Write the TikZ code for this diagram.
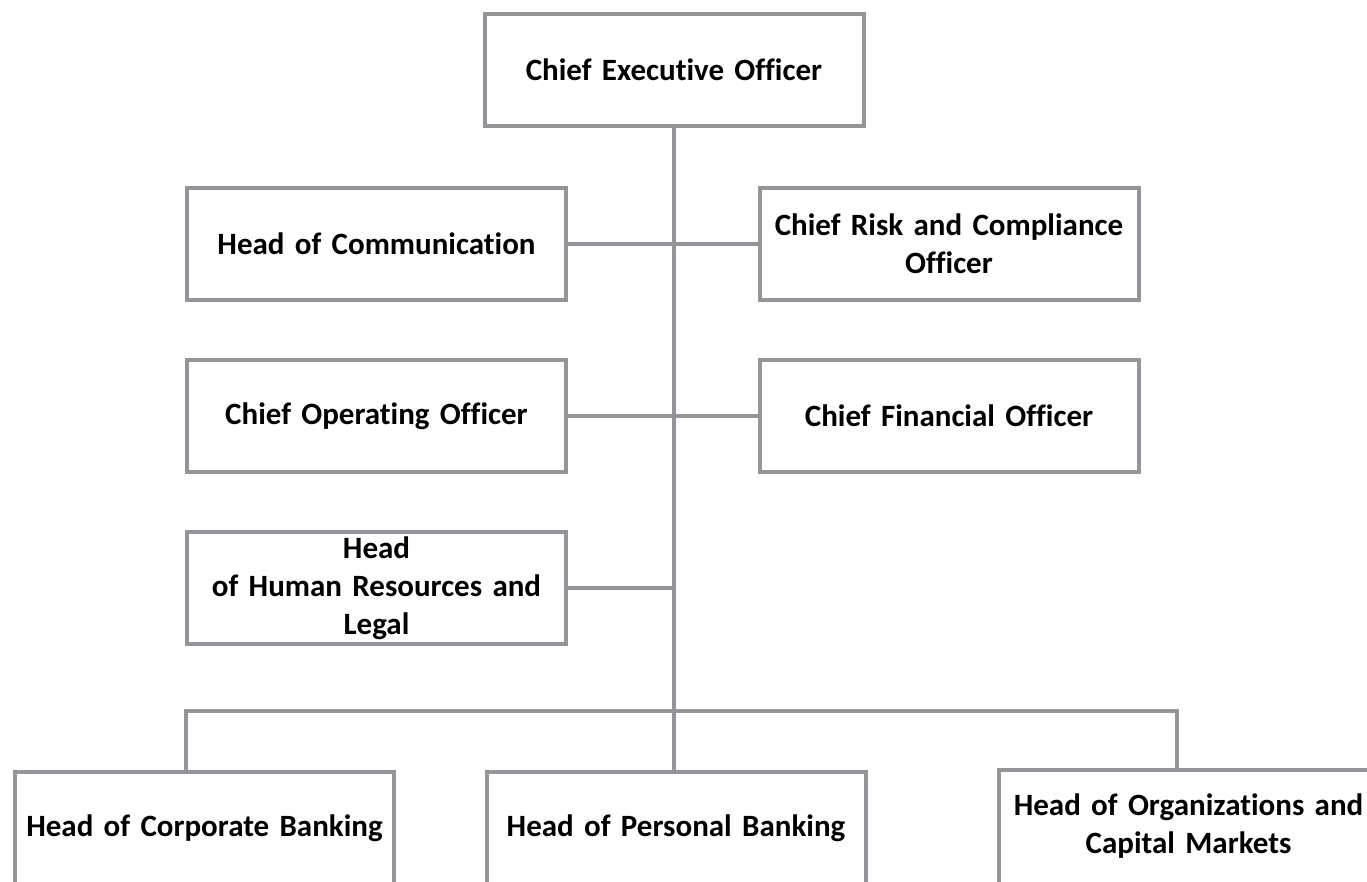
\documentclass[tikz,border=0pt]{standalone}
\usepackage{fontspec}
\setmainfont{Carlito}[Ligatures=NoCommon,WordSpace=0.85]
\begin{document}
\begin{tikzpicture}[x=1pt,y=-1pt,
  box/.style={draw=linegray,line width=4pt,minimum width=379pt,minimum height=112pt,inner sep=0pt,outer sep=0pt,align=center,font=\fontsize{31}{38}\selectfont\bfseries,text width=370pt},
  bbox/.style={box,minimum height=124pt},
  lbl/.style={align=center,font=\fontsize{31}{38}\selectfont\bfseries,text width=370pt,inner sep=0pt,yshift=6pt},
  conn/.style={draw=linegray,line width=4pt}]
\definecolor{linegray}{HTML}{939598}
\useasboundingbox (0,0) rectangle (1367,882);
\clip (0,0) rectangle (1367,882);
\node[box] (ceo) at (674,70) {Chief Executive Officer};
\node[box] (comm) at (376.5,244) {Head of Communication};
\node[box] (risk) at (949,244) {Chief Risk and Compliance\\Officer};
\node[box] (coo) at (376.5,416) {Chief Operating Officer};
\node[box] (cfo) at (949,416) {Chief Financial Officer};
\node[box] (hr) at (376.5,588) {Head\\of Human Resources and\\Legal};
\node[bbox,label={[lbl]center:Head of Corporate Banking}] (corp) at (204.5,834) {};
\node[bbox,label={[lbl]center:Head of Personal Banking}] (pers) at (676,834) {};
\node[bbox,label={[lbl]center:Head of Organizations and\\Capital Markets}] (org) at (1188.5,832) {};
\coordinate (trunkend) at (674,774);
\coordinate (t3) at (674,588);
\coordinate (bl) at (186,711);
\coordinate (br) at (1177,711);
\draw[conn] (ceo.south) -- (trunkend);
\draw[conn] (comm.east) -- (risk.west);
\draw[conn] (coo.east) -- (cfo.west);
\draw[conn] (hr.east) -- (t3);
\draw[conn] (bl |- corp.north) -- (bl) -- (br) -- (br |- org.north);
\end{tikzpicture}
\end{document}
